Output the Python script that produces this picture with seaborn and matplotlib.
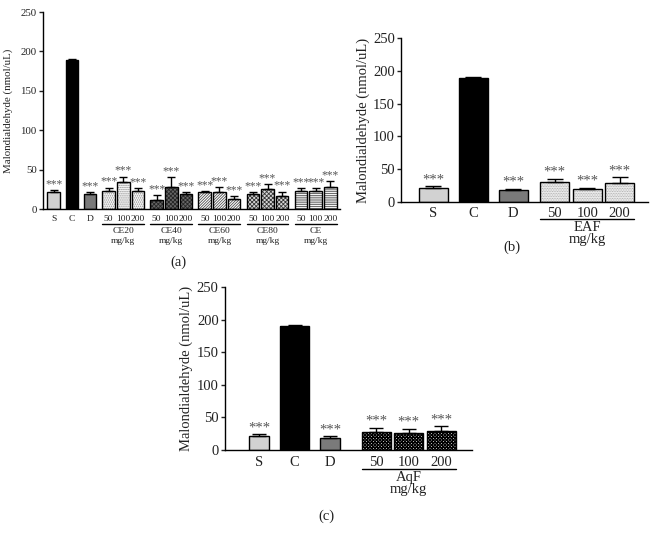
import numpy as np
import pandas as pd
import seaborn as sns
import matplotlib
matplotlib.use("Agg")
import matplotlib.pyplot as plt
from matplotlib.transforms import offset_copy

# ---------------- data ----------------
single_labels = ["S", "C", "D"]
dose_labels = ["50", "100", "200"]

a_groups = ["CE20", "CE40", "CE60", "CE80", "CE"]
a_single_vals = [21.5, 189.5, 18.5]
a_single_err = [2.5, 1.0, 2.5]
a_ce20_vals = [23.0, 34.5, 22.3]
a_ce20_err = [4.0, 6.5, 4.0]
a_ce40_vals = [11.8, 27.8, 19.0]
a_ce40_err = [5.5, 12.7, 2.5]
a_ce60_vals = [21.0, 21.5, 12.6]
a_ce60_err = [1.3, 6.3, 3.4]
a_ce80_vals = [19.4, 26.0, 16.0]
a_ce80_err = [2.0, 5.6, 6.0]
a_ce_vals = [23.0, 23.0, 28.0]
a_ce_err = [3.5, 3.5, 7.0]

b_group = "EAF"
b_vals = [21.0, 189.0, 18.0, 30.5, 19.5, 29.5]
b_err = [3.0, 1.0, 2.5, 4.5, 2.0, 8.0]

c_group = "AqF"
c_vals = [21.4, 190.0, 18.4, 28.0, 26.5, 29.0]
c_err = [3.0, 1.0, 3.0, 5.7, 6.0, 7.6]

yticks = [0, 50, 100, 150, 200, 250]
ylabel = "Malondialdehyde (nmol/uL)"
unit = "mg/kg"
stars = "***"

# ---------------- style ----------------
sns.set_theme(style="ticks")
plt.rcParams["font.family"] = ["Liberation Serif", "DejaVu Serif"]
plt.rcParams["hatch.linewidth"] = 0.8

single_styles = [("#d2d2d2", "", "#d2d2d2"), ("black", "", "black"), ("#7a7a7a", "", "#7a7a7a")]
a_styles = {
    "CE20": ("#f4f4f4", "........", "#8a8a8a"),
    "CE40": ("#666666", "xxxxxxxx", "#262626"),
    "CE60": ("white", "////////////", "#505050"),
    "CE80": ("#d8d8d8", "xxxxxxxx", "#3a3a3a"),
    "CE": ("white", "---------", "#505050"),
}
b_style = ("#f2f2f2", "..........", "#a0a0a0")
c_style = ("white", "xxxxxxxxxx", "black")

W, H = 658, 544
fig = plt.figure(figsize=(W / 100, H / 100), dpi=100)
fig.patch.set_facecolor("white")


def layout(n_single, n_groups, per_group, single_gap, group_gap):
    pos = [0.0]
    for _ in range(n_single - 1):
        pos.append(pos[-1] + single_gap)
    for _ in range(n_groups):
        start = pos[-1] + group_gap
        pos.extend(start + k for k in range(per_group))
    return pos


def axes_px(left, right, top, bottom):
    return fig.add_axes([left / W, 1 - bottom / H, (right - left) / W, (bottom - top) / H])


def panel(ax, pos, vals, errs, styles, ticklabels, groups, width, xlim, fs, yfs, star_fs,
          cap, offs, ylab_x, narrow=None, hatch_lw=0.8):
    df = pd.DataFrame({"pos": pos, "val": vals})
    sns.barplot(data=df, x="pos", y="val", native_scale=True, orient="x", width=width,
                errorbar=None, color="white", linewidth=0, ax=ax)
    fills = list(ax.patches)
    sns.barplot(data=df, x="pos", y="val", native_scale=True, orient="x", width=width,
                errorbar=None, fill=False, color="black", linewidth=1.0, ax=ax)
    outlines = list(ax.patches)[len(fills):]
    for p, (fc, hatch, hc) in zip(fills, styles):
        p.set_facecolor(fc)
        p.set_edgecolor(hc)
        p.set_linewidth(0)
        if hatch:
            p.set_hatch(hatch)
            if hasattr(p, "set_hatch_linewidth"):
                p.set_hatch_linewidth(hatch_lw)
    for p in outlines:
        p.set_edgecolor("black")
        p.set_linewidth(1.0)
    if narrow:
        idx, ratio = narrow
        for i in idx:
            for p in (fills[i], outlines[i]):
                w = p.get_width()
                p.set_x(p.get_x() + w * (1 - ratio) / 2)
                p.set_width(w * ratio)
    ax.errorbar(pos, vals, yerr=[np.zeros(len(vals)), errs], fmt="none", ecolor="black",
                elinewidth=1.0, capsize=cap, capthick=1.0, zorder=4)
    for i, (x, v, e) in enumerate(zip(pos, vals, errs)):
        if ticklabels[i] == "C":
            continue
        ax.annotate(stars, (x, v + e), xytext=(0, 0), textcoords="offset points",
                    ha="center", va="bottom", fontsize=star_fs, color="#555555")
    ax.set_ylim(0, 250)
    ax.set_yticks(yticks)
    ax.set_xlim(*xlim)
    ax.set_xticks(pos)
    ax.set_xticklabels([])
    ax.tick_params(axis="x", length=0)
    ax.tick_params(axis="y", length=3, width=1, pad=1.5, labelsize=yfs, colors="#222222")
    for s in ("left", "bottom"):
        ax.spines[s].set_color("black")
        ax.spines[s].set_linewidth(1.0)
    sns.despine(ax=ax)
    ax.set_xlabel("")
    ax.set_ylabel(ylabel, fontsize=yfs, color="#222222")
    ax.yaxis.set_label_coords(ylab_x, 0.5)
    tick_off, line_off, name_off, unit_off = [o * 0.72 for o in offs]
    tr_tick = offset_copy(ax.get_xaxis_transform(), fig=fig, y=-tick_off, units="points")
    for x, lab in zip(pos, ticklabels):
        ax.text(x, 0, lab, transform=tr_tick, ha="center", va="baseline", fontsize=fs,
                color="#222222")
    tr_line = offset_copy(ax.get_xaxis_transform(), fig=fig, y=-line_off, units="points")
    tr_name = offset_copy(ax.get_xaxis_transform(), fig=fig, y=-name_off, units="points")
    tr_unit = offset_copy(ax.get_xaxis_transform(), fig=fig, y=-unit_off, units="points")
    for name, idx in groups:
        x0 = fills[idx[0]].get_x()
        x1 = fills[idx[-1]].get_x() + fills[idx[-1]].get_width()
        ax.plot([x0, x1], [0, 0], transform=tr_line, color="black", lw=1.0, clip_on=False)
        xm = (pos[idx[0]] + pos[idx[-1]]) / 2
        ax.text(xm, 0, name, transform=tr_name, ha="center", va="baseline", fontsize=fs,
                color="#222222")
        ax.text(xm, 0, unit, transform=tr_unit, ha="center", va="baseline", fontsize=fs,
                color="#222222")


# ---------------- panel (a) ----------------
axa = axes_px(43, 340, 12, 209)
pos_a = layout(3, 5, 3, 1.23, 1.27)
vals_a = a_single_vals + a_ce20_vals + a_ce40_vals + a_ce60_vals + a_ce80_vals + a_ce_vals
errs_a = a_single_err + a_ce20_err + a_ce40_err + a_ce60_err + a_ce80_err + a_ce_err
styles_a = single_styles + [a_styles[g] for g in a_groups for _ in dose_labels]
labels_a = single_labels + dose_labels * len(a_groups)
groups_a = [(g, [3 + 3 * k, 4 + 3 * k, 5 + 3 * k]) for k, g in enumerate(a_groups)]
panel(axa, pos_a, vals_a, errs_a, styles_a, labels_a, groups_a, width=0.85,
      xlim=(-0.73, 19.47), fs=6.8, yfs=7.8, star_fs=8.3, cap=2.8, offs=(11.5, 15, 24, 33.5),
      ylab_x=-30 / 297, hatch_lw=0.6)

# ---------------- panel (b) ----------------
axb = axes_px(401, 648, 38, 202)
pos_b = layout(3, 1, 3, 1.23, 1.28)
styles_b = single_styles + [b_style] * 3
labels_b = single_labels + dose_labels
panel(axb, pos_b, b_vals, b_err, styles_b, labels_b, [(b_group, [3, 4, 5])], width=0.89,
      xlim=(-0.99, 6.61), fs=10.5, yfs=10.5, star_fs=10.5, cap=5.5, offs=(15, 17, 29, 41),
      ylab_x=-31 / 247, hatch_lw=0.5)

# ---------------- panel (c) ----------------
axc = axes_px(225, 472, 287, 450)
pos_c = layout(3, 1, 3, 1.09, 1.42)
styles_c = single_styles + [c_style] * 3
panel(axc, pos_c, c_vals, c_err, styles_c, labels_b, [(c_group, [3, 4, 5])], width=0.89,
      xlim=(-1.05, 6.55), fs=10.5, yfs=10.5, star_fs=10.5, cap=5.0, offs=(16, 19.3, 31, 43),
      ylab_x=-32 / 247, narrow=([0, 2], 20 / 29), hatch_lw=1.0)

# ---------------- captions ----------------
for txt, x, y in [("(a)", 178, 262), ("(b)", 512, 247), ("(c)", 326, 516)]:
    fig.text(x / W, 1 - y / H, txt, ha="center", va="center", fontsize=10.5, color="#222222")

fig.savefig("out.png", dpi=100, facecolor="white")
